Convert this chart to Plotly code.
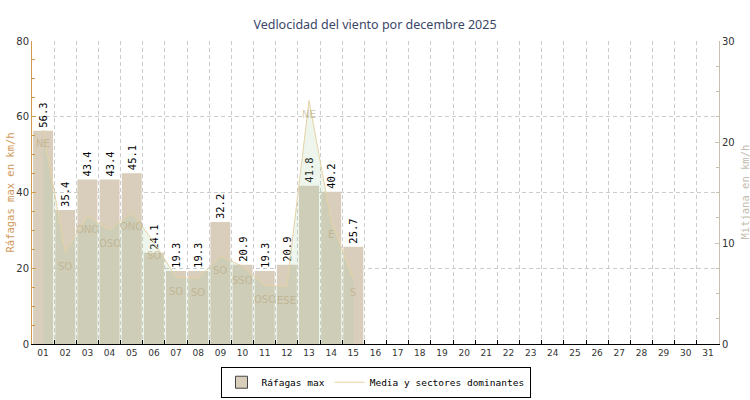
import plotly.graph_objects as go

days = ["{:02d}".format(d) for d in range(1, 32)]
gust_days = days[:15]
gust_max = [56.3, 35.4, 43.4, 43.4, 45.1, 24.1, 19.3, 19.3, 32.2, 20.9,
            19.3, 20.9, 41.8, 40.2, 25.7]
mean_speed = [21.2, 9.1, 12.7, 11.3, 13.0, 10.1, 6.6, 6.5, 8.7, 7.7,
              5.8, 5.7, 24.1, 12.2, 6.5]
sectors = ["NE", "SO", "ONO", "OSO", "ONO", "SO", "SO", "SO", "SO", "SSO",
           "OSO", "ESE", "NE", "E", "S"]

mono = "DejaVu Sans Mono"
sans = "DejaVu Sans"
bar_color = "#d9cdbc"
line_color = "#e6d3a6"
grid_dash = "4px,3px"

fig = go.Figure()

# base category trace so every day shows on the x axis
fig.add_trace(go.Bar(x=days, y=[None] * len(days), showlegend=False,
                     hoverinfo="skip"))

fig.add_trace(go.Bar(
    x=gust_days, y=gust_max,
    marker=dict(color=bar_color, line=dict(width=0)),
    text=["{:.1f}".format(v) for v in gust_max],
    textposition="outside", textangle=-90, constraintext="none",
    cliponaxis=False,
    textfont=dict(family=mono, size=10.5, color="black"),
    showlegend=False, name="Ráfagas max"))

fig.add_trace(go.Scatter(
    x=gust_days, y=mean_speed, yaxis="y2",
    mode="lines", fill="tozeroy",
    fillcolor="rgba(165,205,165,0.2)",
    line=dict(color=line_color, width=1),
    showlegend=False, name="Media y sectores dominantes"))

# sector labels under each mean point (category index for annotations)
for i, (v, s) in enumerate(zip(mean_speed, sectors)):
    fig.add_annotation(x=i, y=v, yref="y2", text=s, showarrow=False,
                       yshift=-14,
                       font=dict(family=sans, size=10,
                                 color="rgba(185,165,125,0.6)"))

# legend entries
fig.add_trace(go.Scatter(
    x=[None], y=[None], mode="markers", name="Ráfagas max",
    marker=dict(symbol="square", size=12, color=bar_color,
                line=dict(color="#444", width=1))))
fig.add_trace(go.Scatter(
    x=[None], y=[None], mode="lines", name="Media y sectores dominantes",
    line=dict(color=line_color, width=1)))

# axis titles
fig.add_annotation(x=0, xref="paper", xanchor="center", xshift=-23,
                   y=0.5, yref="paper", yanchor="middle",
                   text="Ráfagas max en km/h", textangle=-90,
                   showarrow=False,
                   font=dict(family=mono, size=10.5, color="#cf9a5c"))
fig.add_annotation(x=1, xref="paper", xanchor="center", xshift=25,
                   y=0.5, yref="paper", yanchor="middle",
                   text="Mitjana en km/h", textangle=-90, showarrow=False,
                   font=dict(family=mono, size=10.5, color="#c4bcae"))

fig.update_layout(
    width=750, height=400,
    margin=dict(l=32, r=31, t=41, b=56, autoexpand=False),
    plot_bgcolor="white", paper_bgcolor="white",
    barmode="overlay", bargap=0.1,
    title=dict(text="Vedlocidad del viento por decembre 2025",
               x=0.5, xanchor="center", y=0.938, yanchor="middle",
               yref="container",
               font=dict(family="Noto Sans", size=12.5, color="#3b4668")),
    xaxis=dict(type="category", categoryorder="array", categoryarray=days,
               range=[-0.5, 30.5], tickson="boundaries", automargin=False,
               ticks="inside", ticklen=4, tickcolor="black", tickangle=0,
               showline=True, linecolor="black", linewidth=1,
               showgrid=True, gridcolor="#cccccc", griddash=grid_dash,
               tickfont=dict(family=sans, size=9, color="#333333")),
    yaxis=dict(range=[0, 80], dtick=20, ticks="inside", ticklen=4,
               automargin=False,
               tickcolor="#d09a50", showline=True, linecolor="#d09a50",
               linewidth=1, showgrid=True, gridcolor="#cccccc",
               griddash=grid_dash, zeroline=False,
               minor=dict(dtick=5, ticks="inside", ticklen=3,
                          tickcolor="#d09a50", showgrid=False),
               tickfont=dict(family=sans, size=10, color="#333333")),
    yaxis2=dict(overlaying="y", side="right", range=[0, 30], dtick=10,
                automargin=False,
                ticks="inside", ticklen=4, tickcolor="#c8c0b0",
                showline=True, linecolor="#c8c0b0", linewidth=1,
                showgrid=False, zeroline=False,
                minor=dict(dtick=2.5, ticks="inside", ticklen=3,
                           tickcolor="#c8c0b0", showgrid=False),
                tickfont=dict(family=sans, size=10, color="#333333")),
    legend=dict(orientation="h", x=0.5, xanchor="center", y=-0.075,
                yanchor="top", bordercolor="black", borderwidth=1,
                bgcolor="white", itemwidth=30,
                font=dict(family=mono, size=9.5, color="black")),
)

# drop the browser's default body margin so the figure sits at 0,0
fig.write_html("out.html", config=dict(displayModeBar=False),
               post_script="document.body.style.margin='0';")
